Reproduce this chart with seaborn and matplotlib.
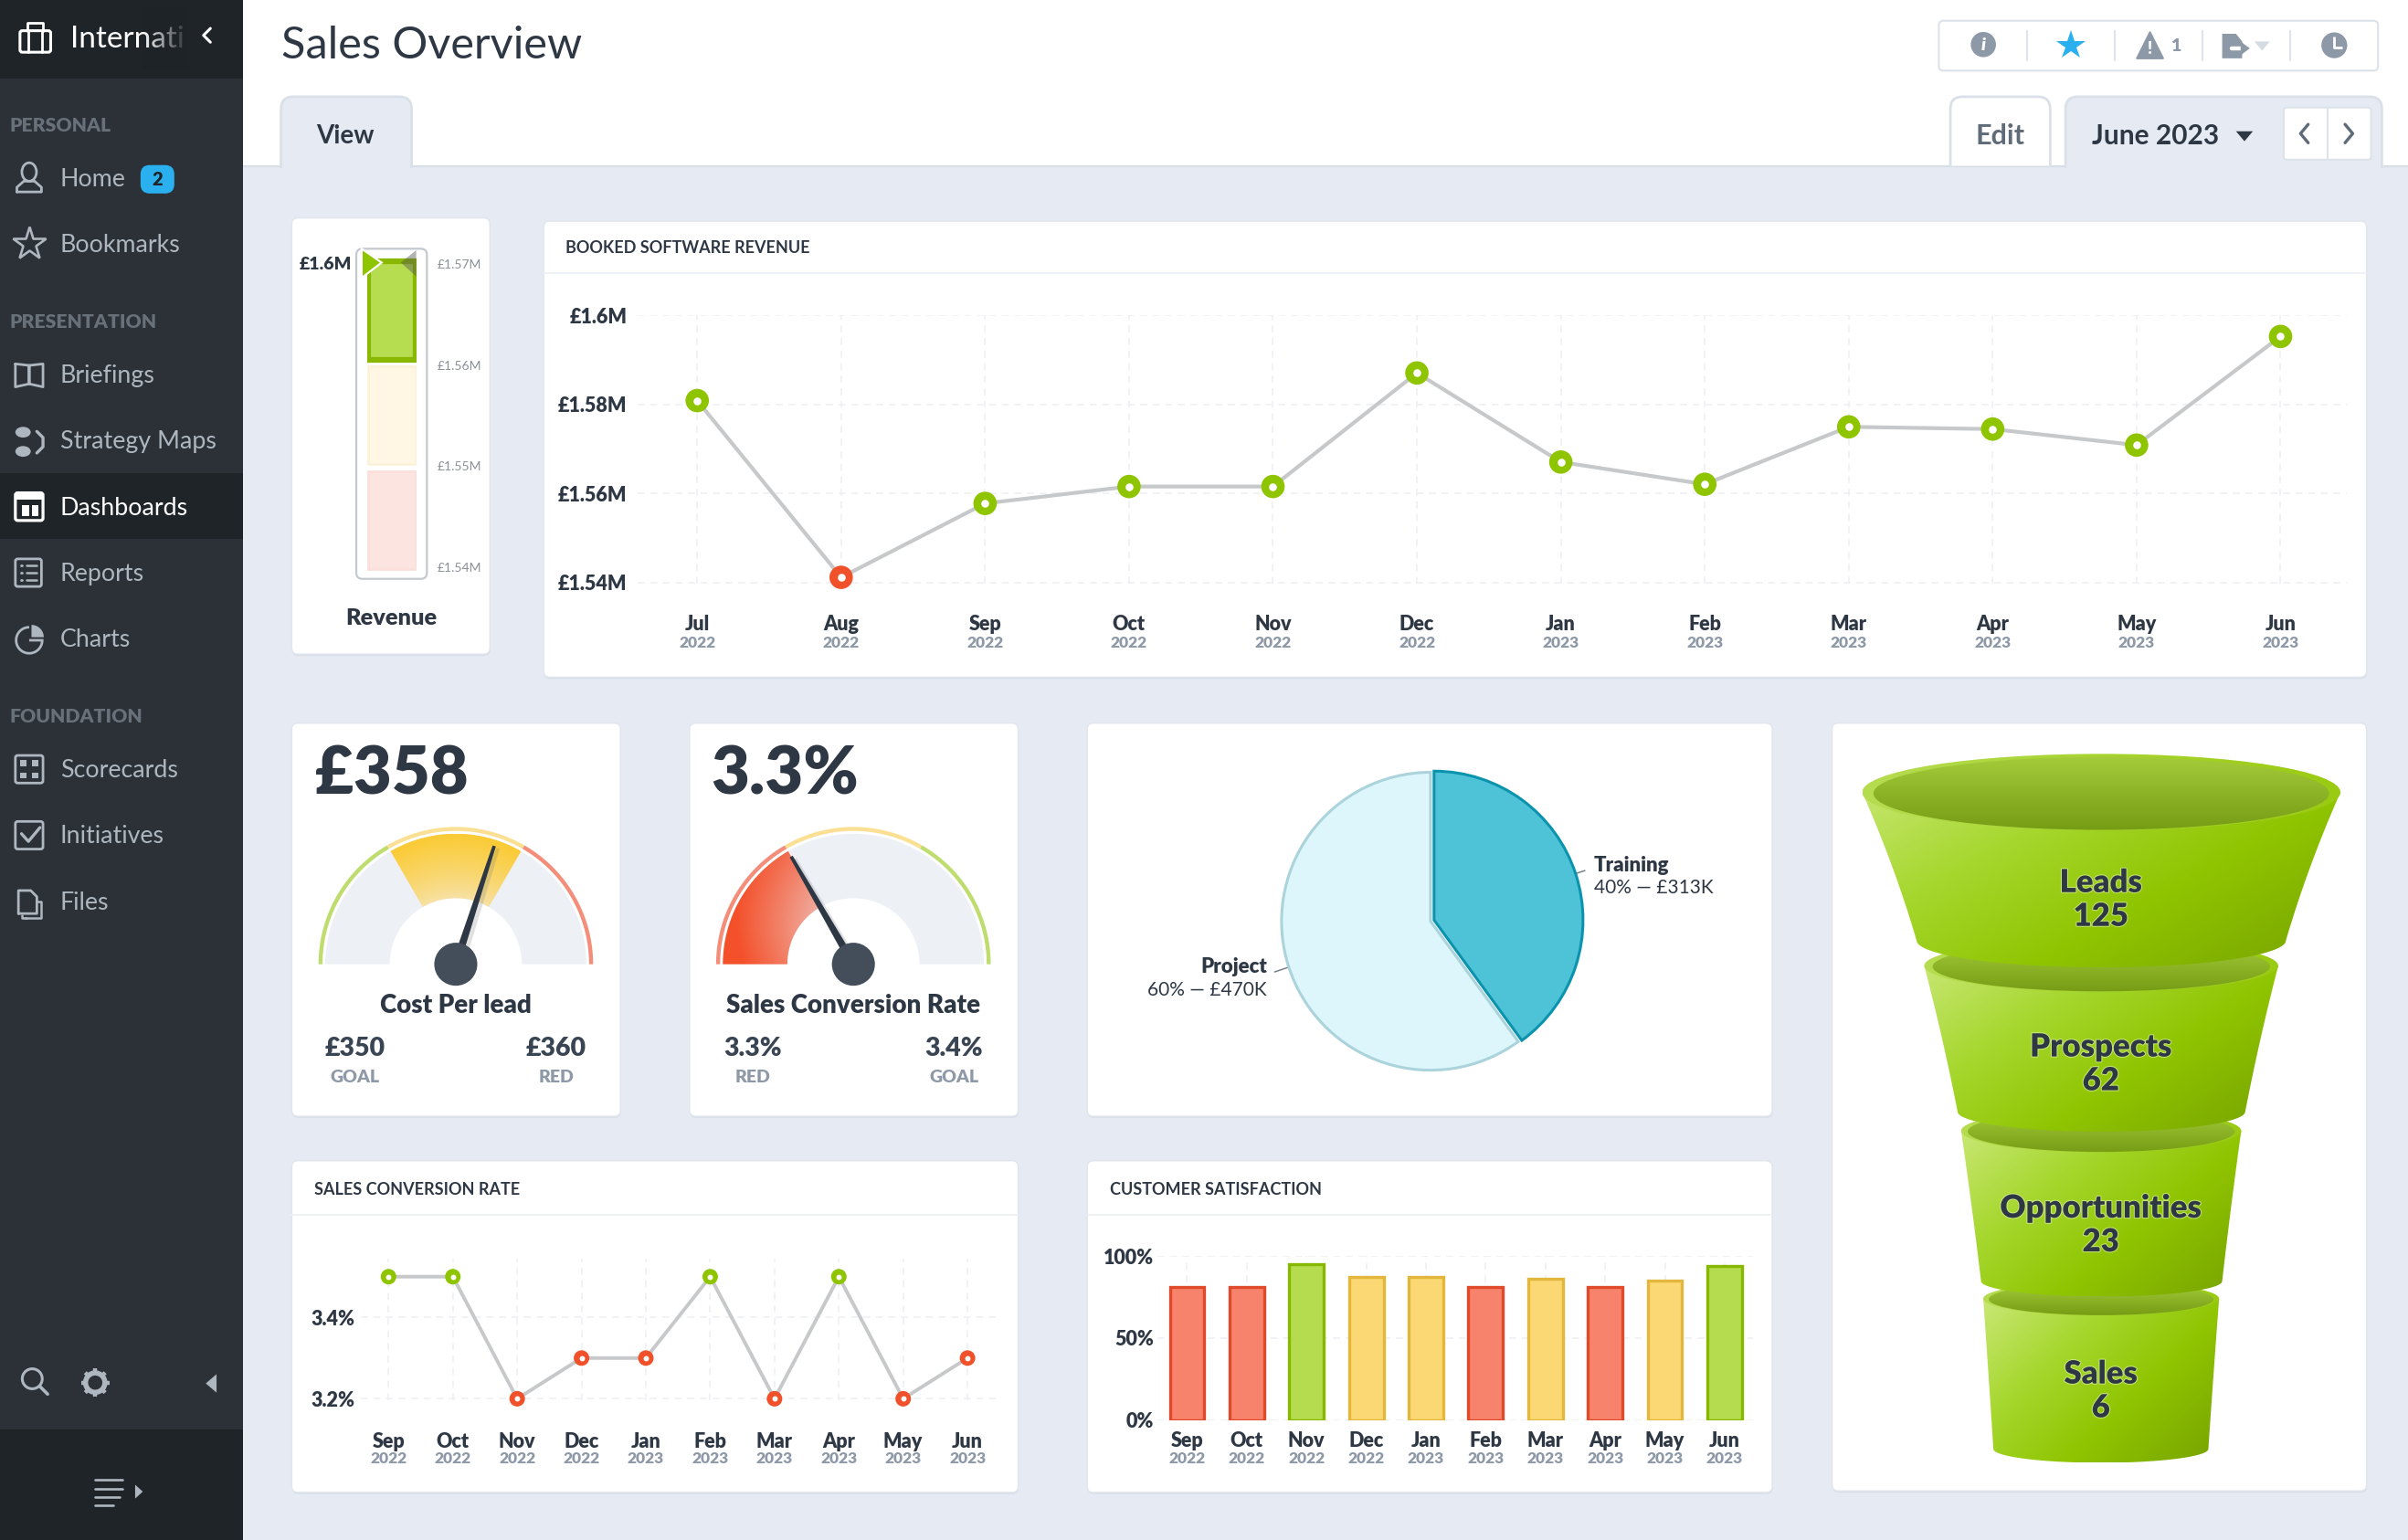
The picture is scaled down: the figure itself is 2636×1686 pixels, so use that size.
import numpy as np
import pandas as pd
import matplotlib
matplotlib.use("Agg")
import matplotlib.pyplot as plt
import seaborn as sns
from matplotlib.patches import Polygon, Circle, Ellipse, FancyBboxPatch, Rectangle, PathPatch
from matplotlib.path import Path
from matplotlib.colors import LinearSegmentedColormap
import matplotlib.patheffects as pe

# ---------------- data ----------------
booked_months = ["Jul", "Aug", "Sep", "Oct", "Nov", "Dec", "Jan", "Feb", "Mar", "Apr", "May", "Jun"]
booked_years = ["2022"] * 6 + ["2023"] * 6
booked_values = [1.5809, 1.5412, 1.5578, 1.5616, 1.5616, 1.5871, 1.5671, 1.5621, 1.5750, 1.5745, 1.5709, 1.5953]
booked_status = ["g", "r", "g", "g", "g", "g", "g", "g", "g", "g", "g", "g"]
booked_ticks = [1.54, 1.56, 1.58, 1.6]
booked_ticklabels = ["£1.54M", "£1.56M", "£1.58M", "£1.6M"]

months10 = ["Sep", "Oct", "Nov", "Dec", "Jan", "Feb", "Mar", "Apr", "May", "Jun"]
years10 = ["2022", "2022", "2022", "2022", "2023", "2023", "2023", "2023", "2023", "2023"]
conv_values = [3.5, 3.5, 3.2, 3.3, 3.3, 3.5, 3.2, 3.5, 3.2, 3.3]
conv_status = ["g", "g", "r", "r", "r", "g", "r", "g", "r", "r"]
conv_ticks = [3.2, 3.4]
conv_ticklabels = ["3.2%", "3.4%"]

sat_values = [81, 81, 95, 87, 87, 81, 86, 81, 85, 94]
sat_status = ["r", "r", "g", "y", "y", "r", "y", "r", "y", "g"]
sat_ticks = [0, 50, 100]
sat_ticklabels = ["0%", "50%", "100%"]

pie_names = ["Training", "Project"]
pie_values = [313, 470]
pie_notes = ["40% — £313K", "60% — £470K"]

funnel_names = ["Leads", "Prospects", "Opportunities", "Sales"]
funnel_values = [125, 62, 23, 6]

bullet_lows = [1.5398, 1.5502, 1.5605]
bullet_highs = [1.5495, 1.5599, 1.5703]
bullet_ticks = [1.54, 1.55, 1.56, 1.57]
bullet_ticklabels = ["£1.54M", "£1.55M", "£1.56M", "£1.57M"]

gauge_cost = dict(value=358, first=350, second=360)
gauge_conv = dict(value=3.3, first=3.3, second=3.4)

# ---------------- style ----------------
sns.set_theme(style="white")
plt.rcParams["font.family"] = "Lato"

W, H = 2636, 1686
PW, PH = 1568.0, 1003.0      # layout units
BOLD = 800
INK = "#2E3744"
MUTED = "#8E99A8"
BG = "#E6EBF3"
LINE = "#DAE0E8"
SIDE = "#2C3138"
DARK = "#1F2428"
ICON = "#AEB7BF"
C_G, C_R, C_Y = "#8FC400", "#F0512B", "#FBD873"

fig = plt.figure(figsize=(W / 100, H / 100), dpi=100, facecolor="white")
ax = fig.add_axes([0, 0, 1, 1])
ax.set_xlim(0, PW)
ax.set_ylim(PH, 0)
ax.axis("off")
ax.set_autoscale_on(False)


def T(x, y, s, size, color=INK, weight="normal", ha="left", va="center", **kw):
    return ax.text(x, y + 0.8, s, fontsize=size, color=color, fontweight=weight, ha=ha, va=va, **kw)


def rect(x0, y0, x1, y1, fc, ec="none", lw=0, z=1, **kw):
    ax.add_patch(Rectangle((x0, y0), x1 - x0, y1 - y0, fc=fc, ec=ec, lw=lw, zorder=z, **kw))


def rrect(x0, y0, x1, y1, r=3, fc="white", ec=LINE, lw=1.2, z=2):
    p = FancyBboxPatch((x0, y0), x1 - x0, y1 - y0, boxstyle=f"round,pad=0,rounding_size={r}",
                       fc=fc, ec=ec, lw=lw, zorder=z)
    ax.add_patch(p)
    return p


def L(xs, ys, c=ICON, lw=2, z=5, **kw):
    ax.plot(xs, ys, color=c, lw=lw, zorder=z, solid_capstyle=kw.pop("cap", "round"), **kw)


def card(x0, y0, x1, y1):
    rrect(x0 + 0.3, y0 + 1.2, x1 + 0.3, y1 + 1.2, r=4, fc="#D9DFE8", ec="none", lw=0, z=1.5)
    rrect(x0, y0, x1, y1, r=4, fc="white", ec="#E1E6EE", lw=1, z=2)


def tab(x0, x1, y0, y1, fc, ec=LINE, r=8, z=3):
    verts = [(x0, y1), (x0, y0 + r), (x0, y0), (x0 + r, y0), (x1 - r, y0), (x1, y0), (x1, y0 + r), (x1, y1)]
    codes = [Path.MOVETO, Path.LINETO, Path.CURVE3, Path.CURVE3, Path.LINETO, Path.CURVE3, Path.CURVE3, Path.LINETO]
    ax.add_patch(PathPatch(Path(verts, codes), fc=fc, ec="none", zorder=z))
    ax.add_patch(PathPatch(Path(verts, codes), fc="none", ec=ec, lw=2, zorder=z + .1))


def image_fill(patch, x0, y0, x1, y1, t, colors, z):
    cmap = LinearSegmentedColormap.from_list("c", colors)
    ax.add_patch(patch)
    im = ax.imshow(t, cmap=cmap, vmin=0, vmax=1, extent=(x0, x1, y1, y0), aspect="auto",
                   zorder=z, interpolation="bilinear")
    im.set_clip_path(patch)


def sector_pts(cx, cy, r0, r1, a0, a1):
    a = np.radians(np.linspace(a0, a1, 80))
    outer = np.c_[cx + r1 * np.cos(a), cy - r1 * np.sin(a)]
    inner = np.c_[cx + r0 * np.cos(a[::-1]), cy - r0 * np.sin(a[::-1])]
    return np.r_[outer, inner]


# ---------------- page chrome ----------------
rect(158, 108, PW, PH, BG, z=0.5)
L([158, PW], [108, 108], c="#D8DEE6", lw=1.6, z=0.8)
rect(0, 0, 158, PH, SIDE, z=1)
rect(0, 0, 158, 51, DARK, z=1.1)
rect(0, 308, 158, 351, DARK, z=1.1)
rect(0, 931, 158, PH, DARK, z=1.1)

T(183, 29, "Sales Overview", 35, INK)
tab(183, 268, 63, 109.5, BG)
T(225, 88, "View", 20, INK, "bold", ha="center")
tab(1270, 1335, 63, 108, "white")
T(1302.5, 88, "Edit", 22, "#5F6B78", "bold", ha="center")
tab(1345, 1551, 63, 109.5, BG)
T(1362, 88, "June 2023", 21.5, INK, "bold")
ax.add_patch(Polygon([(1456, 85.5), (1467, 85.5), (1461.5, 92)], fc=INK, ec="none", zorder=5))
rrect(1487, 70, 1544, 104, r=2, fc="white", ec="#DDE3EA", lw=1.6, z=4)
L([1515.5, 1515.5], [70, 104], c="#DDE3EA", lw=1.5)
L([1503, 1498, 1503], [81, 87, 93], c="#5F6B78", lw=2.4)
L([1527, 1532, 1527], [81, 87, 93], c="#5F6B78", lw=2.4)

rrect(1262.5, 13.5, 1548.5, 46, r=3, fc="white", ec="#DDE3EA", lw=1.6, z=3)
for sx in [1320, 1377, 1434, 1491]:
    L([sx, sx], [20, 39], c="#DDE3EA", lw=1.5)
ax.add_patch(Circle((1291.5, 29), 8.2, fc=MUTED, ec="none", zorder=5))
T(1291.5, 28.5, "i", 14, "white", BOLD, ha="center", style="italic", zorder=6)
ax.plot([1348.6], [30], marker="*", ms=24, color="#2AB0EE", mew=0, zorder=5)
ax.add_patch(Polygon([(1400, 21), (1408.5, 38), (1391.5, 38)], fc=MUTED, ec=MUTED, lw=1.5, joinstyle="round", zorder=5))
T(1400, 31, "!", 13, "white", BOLD, ha="center", zorder=6)
T(1417, 29.5, "1", 14, MUTED, BOLD, ha="center")
ax.add_patch(Polygon([(1447, 22), (1456, 22), (1460, 27), (1460, 38), (1447, 38)], fc=MUTED, ec="none", zorder=5))
L([1453, 1461], [31.5, 31.5], c="white", lw=3.2)
ax.add_patch(Polygon([(1459, 27), (1465, 31.5), (1459, 36)], fc=MUTED, ec="none", zorder=6))
ax.add_patch(Polygon([(1468, 27), (1478, 27), (1473, 33)], fc="#D5DBE3", ec="none", zorder=5))
ax.add_patch(Circle((1520, 29.5), 8.4, fc=MUTED, ec="none", zorder=5))
L([1520, 1520, 1525], [24, 31, 31], c="white", lw=2, cap="butt")

# ---------------- sidebar ----------------
T(46, 25, "Internati", 24, "white", zorder=3)
fade = np.tile(np.linspace(0, 1, 32), (2, 1))
ax.imshow(fade, cmap=LinearSegmentedColormap.from_list("f", [(0.12, 0.14, 0.157, 0), (0.12, 0.14, 0.157, 1)]),
          extent=(92, 123, 45, 5), aspect="auto", zorder=4)
rect(123, 5, 158, 45, DARK, z=4)
L([137, 132.5, 137], [18.5, 23, 27.5], c="white", lw=2.2, z=5)
rrect(13, 20, 33, 34, r=1.5, fc="none", ec="white", lw=2.2, z=5)
L([18, 18, 28, 28], [20, 15, 15, 20], c="white", lw=2)
L([18.5, 18.5], [20, 34], c="white", lw=2)
L([27.5, 27.5], [20, 34], c="white", lw=2)

for label, y in [("PERSONAL", 81), ("PRESENTATION", 209), ("FOUNDATION", 466)]:
    T(6, y, label, 15.2, "#687079", BOLD, zorder=3)
for label, y, col in [("Home", 116, ICON), ("Bookmarks", 159, ICON), ("Briefings", 244, ICON),
                      ("Strategy Maps", 287, ICON), ("Dashboards", 330, "white"), ("Reports", 373, ICON),
                      ("Charts", 416, ICON), ("Scorecards", 501, ICON), ("Initiatives", 544, ICON), ("Files", 587, ICON)]:
    T(39, y, label, 19.3, col, zorder=3)
rrect(91.5, 107.5, 113.5, 126, r=6, fc="#2AB0EE", ec="none", lw=0, z=3)
T(102.5, 116, "2", 14.5, DARK, BOLD, ha="center", zorder=4)

# icons
ax.add_patch(Ellipse((19, 112), 9.5, 12, fc="none", ec=ICON, lw=2, zorder=5))
L([11, 11, 15.5, 22.5, 27, 27, 11], [125, 122, 118, 118, 122, 125, 125])
ax.plot([19], [159], marker="*", ms=27, mfc="none", mec=ICON, mew=1.9, zorder=5)
L([10, 10, 19, 28, 28, 19, 19, 19, 10], [237, 252, 250, 252, 237, 238, 250, 238, 237])
ax.add_patch(Ellipse((15, 281.5), 10, 7, fc=ICON, ec="none", zorder=5))
ax.add_patch(Ellipse((15, 294), 10, 7, fc=ICON, ec="none", zorder=5))
L([24, 28, 28, 24], [281, 285, 291, 295], lw=2.4)
rrect(10, 321, 28, 339, r=1.5, fc="none", ec="white", lw=2.3, z=5)
rect(10, 321, 28, 325.5, "white", z=5)
rect(14, 329, 19, 336, "white", z=5)
rect(21, 329, 25, 336, "white", z=5)
rrect(10, 364, 27, 382, r=1.5, fc="none", ec=ICON, lw=2, z=5)
for yy in [368.5, 373, 377.5]:
    L([13.5, 14], [yy, yy], lw=2)
    L([17, 24], [yy, yy], lw=1.8)
ax.add_patch(PathPatch(Path(sector_pts(19, 417, 0, 8.5, 90, 360)), fc="none", ec=ICON, lw=2, zorder=5))
ax.add_patch(Polygon(sector_pts(20.5, 415, 0, 8, 0, 90), fc=ICON, ec="none", zorder=5))
rrect(10, 492, 28, 510, r=1.5, fc="none", ec=ICON, lw=2, z=5)
for xx, yy in [(15, 497), (23, 497), (15, 505), (23, 505)]:
    rect(xx - 2, yy - 2, xx + 2, yy + 2, ICON, z=5)
rrect(10, 535, 28, 553, r=1.5, fc="none", ec=ICON, lw=2, z=5)
L([14, 18.5, 26], [543, 548, 539], lw=2.4)
L([12, 12, 20, 24, 24, 12], [595, 580, 580, 584, 595, 595])
L([14, 14, 17], [596, 598, 598], lw=1.8)
L([24, 27, 27, 16], [587, 587, 598, 598], lw=1.8)
ax.add_patch(Circle((21, 898), 6.5, fc="none", ec=ICON, lw=2.2, zorder=5))
L([26, 31], [903, 908], lw=2.6)
ax.add_patch(Circle((62, 900.5), 6.3, fc="none", ec=ICON, lw=4, zorder=5))
for k in range(8):
    a = k * np.pi / 4
    L([62 + 6 * np.cos(a), 62 + 9.2 * np.cos(a)], [900.5 + 6 * np.sin(a), 900.5 + 9.2 * np.sin(a)], lw=3.2, cap="butt")
ax.add_patch(Polygon([(141, 895), (141, 907), (134, 901)], fc=ICON, ec="none", zorder=5))
for yy, x1 in [(964.5, 80), (970, 80), (975.5, 78), (981, 74)]:
    L([62, x1], [yy - 0.5, yy - 0.5], lw=1.9)
ax.add_patch(Polygon([(88, 967), (88, 976), (93, 971.5)], fc=ICON, ec="none", zorder=5))

# ---------------- cards ----------------
card(190, 142, 319, 426)
card(354, 144, 1541, 441)
card(190, 471, 404, 727)
card(449, 471, 663, 727)
card(708, 471, 1154, 727)
card(1193, 471, 1541, 971)
card(190, 756, 663, 972)
card(708, 756, 1154, 972)
for x0, x1, y, title in [(354, 1541, 178, "BOOKED SOFTWARE REVENUE"),
                         (190, 663, 791, "SALES CONVERSION RATE"),
                         (708, 1154, 791, "CUSTOMER SATISFACTION")]:
    L([x0, x1], [y, y], c="#EDF0F5", lw=1.3, z=3)
    T(x0 + 14.5, y - 17, title, 13, INK, "bold", zorder=3)


# ---------------- helper for real chart axes ----------------
def axes_at(x0, y0, x1, y1):
    a = fig.add_axes([x0 / PW, 1 - y1 / PH, (x1 - x0) / PW, (y1 - y0) / PH])
    a.patch.set_alpha(0)
    sns.despine(ax=a, left=True, bottom=True)
    return a


def month_axis(a, months, years, pad, year_off, msize=15.5, ysize=12.5):
    a.set_xticks(range(len(months)))
    a.set_xticklabels(months, fontweight=BOLD, fontsize=msize, color=INK)
    a.tick_params(axis="x", length=0, pad=pad)
    for i, yr in enumerate(years):
        a.annotate(yr, (i, 0), xycoords=a.get_xaxis_transform(), xytext=(0, -year_off), textcoords="offset points",
                   ha="center", va="center", fontsize=ysize, color=MUTED, fontweight=BOLD, annotation_clip=False)
    a.set_xlabel("")
    a.set_ylabel("")


def dash_grid(a):
    a.grid(True, axis="both", color="#ECEFF3", lw=1.1, linestyle=(0, (5, 4)), zorder=0)
    a.set_axisbelow(True)


def status_line(a, frame, palette, s_out, s_in, lw):
    sns.lineplot(data=frame, x="i", y="v", color="#C6C8CA", lw=lw, ax=a, zorder=3, legend=False)
    sns.scatterplot(data=frame, x="i", y="v", hue="status", palette=palette, s=s_out, linewidth=0,
                    ax=a, zorder=4, legend=False, clip_on=False)
    sns.scatterplot(data=frame, x="i", y="v", color="white", s=s_in, linewidth=0,
                    ax=a, zorder=5, legend=False, clip_on=False)


STATUS = {"g": C_G, "r": C_R}

# booked software revenue
a1 = axes_at(415, 205.5, 1528, 380)
df1 = pd.DataFrame({"i": range(len(booked_values)), "v": booked_values, "status": booked_status})
status_line(a1, df1, STATUS, 340, 38, 3.0)
a1.set_xlim(-39 / 93.73, 11 + 43 / 93.73)
a1.set_ylim(1.6 - 174.5 / 58 * 0.02, 1.6)
a1.set_yticks(booked_ticks)
a1.set_yticklabels(booked_ticklabels, fontweight=BOLD, fontsize=15.5, color=INK)
a1.tick_params(axis="y", length=0, pad=8)
month_axis(a1, booked_months, booked_years, 25, 47)
dash_grid(a1)

# sales conversion rate
a2 = axes_at(235, 820, 650, 912)
df2 = pd.DataFrame({"i": range(len(conv_values)), "v": conv_values, "status": conv_status})
status_line(a2, df2, STATUS, 150, 18, 2.8)
a2.set_xlim(-18 / 41.89, 9 + 20 / 41.89)
a2.set_ylim(3.4 - 54 / 265.0, 3.4 + 38 / 265.0)
a2.set_yticks(conv_ticks)
a2.set_yticklabels(conv_ticklabels, fontweight=BOLD, fontsize=15.5, color=INK)
a2.tick_params(axis="y", length=0, pad=5)
month_axis(a2, months10, years10, 25, 46)
dash_grid(a2)

# customer satisfaction
a3 = axes_at(753.7, 818, 1141.5, 925)
SAT_FILL = {"r": "#F8836D", "y": "#FBD873", "g": "#B5DC4E"}
SAT_EDGE = {"r": "#E0492A", "y": "#E3B73B", "g": "#86B800"}
df3 = pd.DataFrame({"m": months10, "v": sat_values, "status": sat_status})
sns.barplot(data=df3, x="m", y="v", hue="m", palette=[SAT_FILL[s] for s in sat_status],
            width=0.58, saturation=1, legend=False, ax=a3, zorder=3)
for patch, s in zip(a3.patches, sat_status):
    patch.set_edgecolor(SAT_EDGE[s])
    patch.set_linewidth(2.4)
a3.set_xlim(-0.496, 9.476)
a3.set_ylim(0, 100)
a3.set_yticks(sat_ticks)
a3.set_yticklabels(sat_ticklabels, fontweight=BOLD, fontsize=15.5, color=INK)
a3.tick_params(axis="y", length=0, pad=3)
month_axis(a3, months10, years10, 9, 30)
dash_grid(a3)
for sp in a3.spines.values():
    sp.set_visible(False)

# bullet
rrect(232, 162, 278, 377, r=4, fc="white", ec="#C4C9CF", lw=1.6, z=3)
a4 = axes_at(239, 162, 271.5, 377)
band_fill = ["#FCE4E1", "#FFF7E4", "#B6DC50"]
band_edge = ["#FBDFDB", "#FBF2DA", "#8AB800"]
band_lw = [2, 2, 4.5]
for lo, hi, fc, ec, lw in zip(bullet_lows, bullet_highs, band_fill, band_edge, band_lw):
    a4.bar(0, hi - lo, bottom=lo, width=0.96, color=fc, edgecolor=ec, linewidth=lw)
a4.set_xlim(-0.5, 0.5)
a4.set_xticks([])
a4.set_ylim(1.54 - 7.5 / 6580, 1.57 + 10 / 6580)
a4.yaxis.tick_right()
a4.set_yticks(bullet_ticks)
a4.set_yticklabels(bullet_ticklabels, fontsize=10, color="#8A8F96")
a4.tick_params(axis="y", length=0, pad=16)
ax4 = fig.add_axes([0, 0, 1, 1])
ax4.set_xlim(0, PW)
ax4.set_ylim(PH, 0)
ax4.axis("off")
ax4.add_patch(Polygon([(271, 163), (271, 180), (261, 171)], fc="#555555", alpha=0.45, ec="none"))
ax4.add_patch(Polygon([(235.5, 162), (235.5, 181), (248.5, 171)], fc=C_G, ec="white", lw=1.6))
ax4.text(229, 172.5, "£1.6M", fontsize=14, fontweight=BOLD, color=INK, ha="right", va="center")
ax4.text(255, 402.8, "Revenue", fontsize=18.2, fontweight=BOLD, color=INK, ha="center", va="center")

# ---------------- gauges ----------------
def gauge(cx, cy, g, ring, title, big, bigx, left, right, fill_sector, fill_colors, radial):
    r_ring0, r_ring1, r0, r1 = 86.8, 89.4, 43, 85
    ax.add_patch(Polygon(sector_pts(cx, cy, r0, r1, 0, 180), fc="#EDF1F6", ec="none", zorder=3))
    for (a0, a1_), col in zip([(120, 180), (60, 120), (0, 60)], ring):
        ax.add_patch(Polygon(sector_pts(cx, cy, r_ring0, r_ring1, a0, a1_), fc=col, ec="none", zorder=3))
    # highlighted sector, shaded by distance from the hub
    n = 260
    xs = np.linspace(cx - r1, cx + r1, n)
    ys = np.linspace(cy - r1, cy, n // 2)
    X, Y = np.meshgrid(xs, ys)
    R = np.hypot(X - cx, Y - cy)
    A = np.degrees(np.arctan2(cy - Y, X - cx))
    if radial:
        t = np.clip((R - r0) / 42, 0, 1) ** 0.8
    else:
        t = np.clip(((180 - A) / 60) * 0.55 + (r1 - R) / (r1 - r0) * 0.75 - 0.25, 0, 1)
        t = 1 - t
    clip = Polygon(sector_pts(cx, cy, r0, r1, *fill_sector), fc="none", ec="none", zorder=3.2)
    image_fill(clip, xs[0], ys[0], xs[-1], ys[-1], t, fill_colors, 3.2)
    # needle
    ang = 120 - 60 * (g["value"] - g["first"]) / (g["second"] - g["first"])
    rad = np.radians(ang)
    ux, uy = np.cos(rad), -np.sin(rad)
    nx, ny = -uy, ux
    tip = (cx + 81 * ux, cy + 81 * uy)
    tipw, base = 1.1, 2.6
    needle = [(tip[0] + nx * tipw, tip[1] + ny * tipw), (tip[0] - nx * tipw, tip[1] - ny * tipw),
              (cx - nx * base, cy - ny * base), (cx + nx * base, cy + ny * base)]
    shadow = [(px + 2.5, py + 1.5) for px, py in needle]
    ax.add_patch(Polygon(shadow, fc="#777777", alpha=0.22, ec="none", zorder=3.4))
    ax.add_patch(Polygon(needle, fc=INK, ec="none", zorder=3.5))
    ax.add_patch(Circle((cx, cy), 14, fc="#434E5A", ec="none", zorder=3.6))
    T(bigx, 504, big, 52, INK, BOLD, zorder=4)
    T(cx, 654, title, 20, INK, BOLD, ha="center", zorder=4)
    for x, (val, lab) in zip([cx - 65.5, cx + 65.5], [left, right]):
        T(x, 682, val, 20.5, "#3A4553", BOLD, ha="center", zorder=4)
        T(x, 701, lab, 14, MUTED, BOLD, ha="center", zorder=4)


gauge(296.8, 628, gauge_cost, ["#BEDD6E", "#FBDF93", "#F48E7A"], "Cost Per lead", "£358", 205,
      ("£350", "GOAL"), ("£360", "RED"), (60, 120), ["#F7E2A8", "#FBCB35"], True)
gauge(555.7, 628, gauge_conv, ["#F48E7A", "#FBDF93", "#BEDD6E"], "Sales Conversion Rate", "3.3%", 463,
      ("3.3%", "RED"), ("3.4%", "GOAL"), (120, 180), ["#F0A99B", "#F4512B"], False)

# ---------------- pie ----------------
a5 = fig.add_axes([(931.5 - 105) / PW, 1 - (600 + 105) / PH, 210 / PW, 210 / PH])
wedges, _ = a5.pie(pie_values, startangle=90, counterclock=False, radius=1.0,
                   explode=[0.025, 0.0], colors=["#4EC3D8", "#DDF6FB"],
                   wedgeprops=dict(linewidth=2.2, width=None))
wedges[0].set_edgecolor("#0B93AE")
wedges[1].set_edgecolor("#ABD3DB")
a5.set_xlim(-105 / 97, 105 / 97)
a5.set_ylim(-105 / 97, 105 / 97)
L([1017, 1032], [572, 567], c="#777F88", lw=1.1, z=6)
L([830, 845], [633, 628], c="#777F88", lw=1.1, z=6)
T(1038, 563, pie_names[0], 16, INK, BOLD, zorder=6)
T(1038, 577.5, pie_notes[0], 15, INK, zorder=6)
T(825, 629, pie_names[1], 16, INK, BOLD, ha="right", zorder=6)
T(825, 644, pie_notes[1], 15, INK, ha="right", zorder=6)

# ---------------- funnel ----------------
FUN_COLS = ["#C8E773", "#A6D72E", "#8FC400", "#7BA800"]
geom = [  # cx-left/right top, y top, half height; left/right bottom, y bottom, half height
    (1212.6, 1524.0, 516.0, 25.0, 1248.0, 1488.5, 612.5, 17.5, 0.10),
    (1253.0, 1483.5, 629.0, 17.0, 1274.7, 1462.0, 724.0, 13.0, 0.07),
    (1277.0, 1459.4, 736.5, 14.0, 1290.0, 1447.0, 834.4, 10.0, 0.05),
    (1291.4, 1445.0, 845.8, 11.0, 1298.0, 1438.0, 943.7, 9.0, 0.03),
]
text_y = [(574, 596), (681, 703), (786, 808), (894, 916)]
for k in range(3, -1, -1):
    xl0, xr0, yt, ht, xl1, xr1, yb, hb, bow = geom[k]
    z = 3 + (3 - k) * 0.2
    th = np.linspace(np.pi, 0, 60)
    cxb, rxb = (xl1 + xr1) / 2, (xr1 - xl1) / 2
    cxt, rxt = (xl0 + xr0) / 2, (xr0 - xl0) / 2
    u = np.linspace(0, 1, 24)
    ctrl_l = ((xl0 + xl1) / 2 + (xl1 - xl0) * bow, (yt + yb) / 2)
    ctrl_r = ((xr0 + xr1) / 2 - (xr0 - xr1) * bow, (yt + yb) / 2)
    left = np.c_[(1 - u) ** 2 * xl0 + 2 * u * (1 - u) * ctrl_l[0] + u ** 2 * xl1,
                 (1 - u) ** 2 * yt + 2 * u * (1 - u) * ctrl_l[1] + u ** 2 * yb]
    right = np.c_[(1 - u) ** 2 * xr1 + 2 * u * (1 - u) * ctrl_r[0] + u ** 2 * xr0,
                  (1 - u) ** 2 * yb + 2 * u * (1 - u) * ctrl_r[1] + u ** 2 * yt]
    bottom = np.c_[cxb + rxb * np.cos(th), yb + hb * np.sin(th)]
    pts = np.r_[left, bottom, right]
    y0, y1 = yt - ht, yb + hb
    gy, gx = np.mgrid[0:1:120j, 0:1:120j]
    t = np.clip(gx * 0.62 + gy * 0.5 - 0.06, 0, 1)
    image_fill(Polygon(pts, fc="none", ec="none", zorder=z), xl0, y0, xr0, y1, t, FUN_COLS, z)
    # rim
    top = Ellipse((cxt, yt), 2 * rxt, 2 * ht, fc="none", ec="none", zorder=z + 0.05)
    image_fill(top, xl0, yt - ht, xr0, yt + ht, np.clip(gx, 0, 1), ["#B6DC50", "#9ACB12"], z + 0.05)
    inner = Ellipse((cxt, yt + ht * 0.03), 2 * rxt * 0.953, 2 * ht * 0.95, fc="none", ec="none", zorder=z + 0.1)
    image_fill(inner, xl0, yt - ht, xr0, yt + ht, gy, ["#A6CE3C", "#769C14"], z + 0.1)

halo = [pe.withStroke(linewidth=1.6, foreground="#D9EDA0", alpha=0.7)]
for name, val, (ty0, ty1) in zip(funnel_names, funnel_values, text_y):
    T(1368, ty0, name, 25, INK, BOLD, ha="center", zorder=6, path_effects=halo)
    T(1368, ty1, str(val), 25, INK, BOLD, ha="center", zorder=6, path_effects=halo)

ax.set_xlim(0, PW)
ax.set_ylim(PH, 0)
fig.savefig("out.png", dpi=100, facecolor="white")
